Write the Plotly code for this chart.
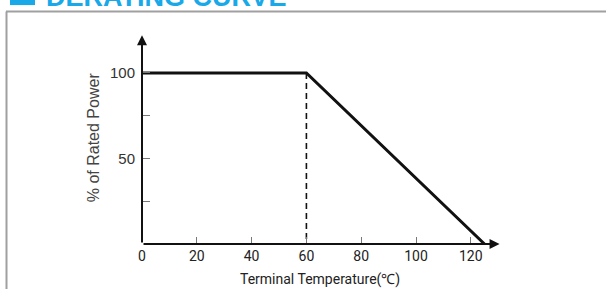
import plotly.graph_objects as go

# Data
curve_temp = [0, 60, 125]
curve_power = [100, 100, 0]
knee_temp = [60, 60]
knee_power = [100, 0]
x_tickvals = [0, 20, 40, 60, 80, 100, 120]
x_ticktext = ["0", "20", "40", "60", "80", "100", "120"]
y_tickvals = [25, 50, 75, 100]
y_ticktext = ["", "50", "", "100"]

W, H = 606, 289
L, R, T, B = 142, 104, 30, 44.5
PW, PH = W - L - R, H - T - B
XS, YS = 2.74, 1.715  # px per unit

def px(x):
    return (x - L) / PW

def py(y):
    return (H - B - y) / PH

fig = go.Figure()
fig.add_trace(go.Scatter(x=knee_temp, y=knee_power, mode="lines",
                         line=dict(color="#111", width=1.6, dash="6px,4px"),
                         hoverinfo="skip", showlegend=False))
fig.add_trace(go.Scatter(x=curve_temp, y=curve_power, mode="lines",
                         line=dict(color="#111", width=3),
                         hoverinfo="skip", showlegend=False))

x_max = 130.5
y_max = 122

fig.update_layout(
    width=W, height=H,
    margin=dict(l=L, r=R, t=T, b=B, pad=0),
    paper_bgcolor="white", plot_bgcolor="white",
    showlegend=False,
    xaxis=dict(range=[0, PW / XS], showgrid=False, zeroline=False, showline=False,
               tickvals=x_tickvals, ticktext=x_ticktext, ticks="inside", ticklen=7,
               tickcolor="#777", tickwidth=1,
               tickfont=dict(family="Roboto", size=14, color="#222"),
               ticklabelstandoff=2, fixedrange=True),
    yaxis=dict(range=[0, PH / YS], showgrid=False, zeroline=False, showline=False,
               tickvals=y_tickvals, ticktext=y_ticktext, ticks="inside", ticklen=8,
               tickcolor="#777", tickwidth=1,
               tickfont=dict(family="Liberation Sans", size=15, color="#333"),
               ticklabelstandoff=6, fixedrange=True),
)

# axis arrows
fig.add_annotation(x=x_max, y=0, ax=0, ay=0, xref="x", yref="y", axref="x", ayref="y",
                   showarrow=True, arrowhead=2, arrowsize=1, arrowwidth=2, arrowcolor="#111", text="")
fig.add_annotation(x=0, y=y_max, ax=0, ay=0, xref="x", yref="y", axref="x", ayref="y",
                   showarrow=True, arrowhead=2, arrowsize=1, arrowwidth=2, arrowcolor="#111", text="")

# axis titles
fig.add_annotation(text="Terminal Temperature(℃)", xref="paper", yref="paper",
                   x=px(320), y=py(280), xanchor="center", yanchor="middle", showarrow=False,
                   font=dict(family="Roboto", size=14, color="#222"))
fig.add_annotation(text="% of Rated Power", xref="paper", yref="paper",
                   x=px(93), y=py(137.5), xanchor="center", yanchor="middle", showarrow=False,
                   textangle=-90,
                   font=dict(family="Liberation Sans", size=16, color="#444"))

# title (cut off at top)
fig.add_annotation(text="<b>DERATING CURVE</b>", xref="paper", yref="paper",
                   x=px(44), y=py(14), xanchor="left", yanchor="bottom", showarrow=False,
                   font=dict(family="Liberation Sans", size=27, color="#19a8e8"))
fig.add_shape(type="rect", xref="paper", yref="paper",
              x0=px(10), x1=px(35), y0=py(5), y1=py(-10),
              fillcolor="#19a8e8", line=dict(width=0))

# frame
fig.add_shape(type="line", xref="paper", yref="paper",
              x0=px(6), x1=px(610), y0=py(11.5), y1=py(11.5),
              line=dict(color="#a0a0a0", width=2))
fig.add_shape(type="line", xref="paper", yref="paper",
              x0=px(6.5), x1=px(6.5), y0=py(11.5), y1=py(295),
              line=dict(color="#a0a0a0", width=2))

fig.write_html("out.html", config={"displayModeBar": False},
               post_script="document.body.style.margin='0px';document.body.style.overflow='hidden';")
